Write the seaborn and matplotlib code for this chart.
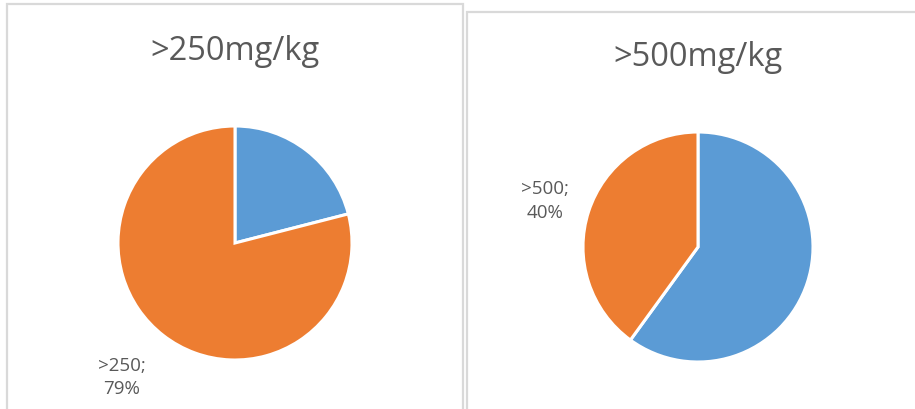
import matplotlib
matplotlib.use("Agg")
import matplotlib.pyplot as plt
from matplotlib.patches import Rectangle
import seaborn as sns

# Share of samples below / above each threshold
left_title = ">250mg/kg"
left_labels = ["<250", ">250"]
left_values = [21, 79]

right_title = ">500mg/kg"
right_labels = ["<500", ">500"]
right_values = [60, 40]

sns.set_theme(style="white")
plt.rcParams["font.family"] = ["Open Sans", "DejaVu Sans"]

palette = ["#5B9BD5", "#ED7D31"]
text_color = "#595959"
border_color = "#D9D9D9"

W, H = 915, 410
fig = plt.figure(figsize=(W / 100, H / 100), dpi=100)
fig.patch.set_facecolor("white")


def px_box(x0, y0, x1, y1):
    """Figure-fraction rectangle from pixel coords (origin top-left)."""
    return [x0 / W, 1 - y1 / H, (x1 - x0) / W, (y1 - y0) / H]


# Panel frames (bottom edge runs off the figure)
for x0, y0, x1 in [(7, 5, 463), (467, 13, 925)]:
    fig.patches.append(Rectangle((x0 / W, -0.1), (x1 - x0) / W, 1 - y0 / H + 0.1,
                                 transform=fig.transFigure, fill=False,
                                 edgecolor=border_color, linewidth=1.6))


def draw_pie(cx, cy, r, values, labels, title, title_y, label_xy):
    ax = fig.add_axes(px_box(cx - r, cy - r, cx + r, cy + r))
    ax.pie(values, colors=palette, startangle=90, counterclock=False,
           wedgeprops=dict(edgecolor="white", linewidth=2.2))
    ax.set_xlim(-1, 1)
    ax.set_ylim(-1, 1)
    ax.set_aspect("equal")
    ax.axis("off")
    lx, ly = label_xy
    ax.text(lx, ly, f"{labels[1]};\n{values[1]}%", ha="center", va="center",
            fontsize=13.5, color=text_color, linespacing=1.4, clip_on=False)
    fig.text(cx / W, 1 - title_y / H, title, ha="center", va="center",
             fontsize=23.5, color=text_color)


draw_pie(235, 244, 117, left_values, left_labels, left_title, 51,
         (-0.97, -1.14))
draw_pie(698, 248, 115, right_values, right_labels, right_title, 58,
         (-1.33, 0.41))

fig.savefig("out.png", dpi=100, facecolor="white")
